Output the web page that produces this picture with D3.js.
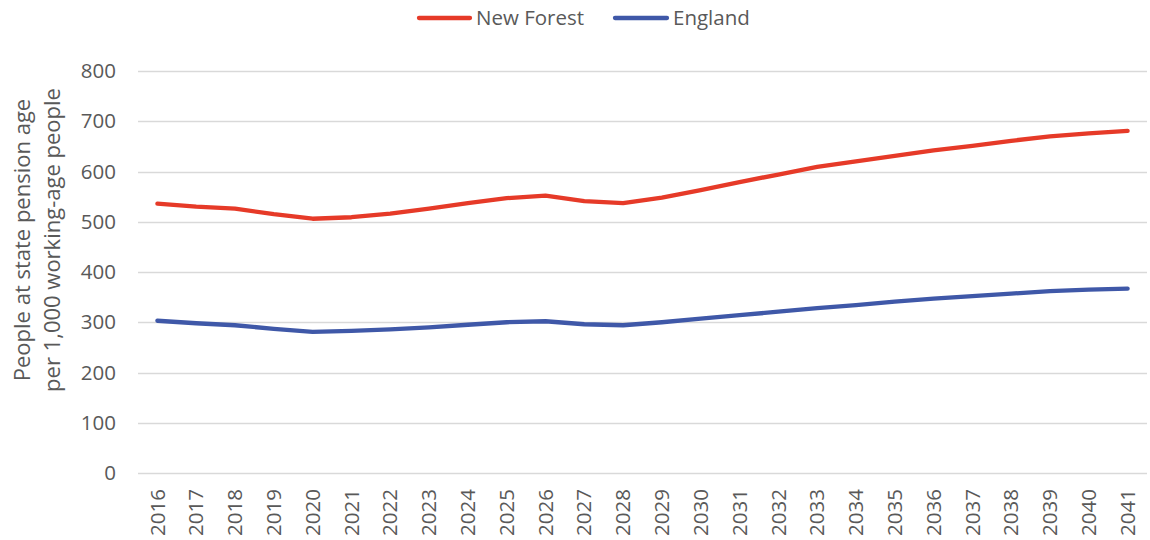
<!DOCTYPE html>
<html>
<head>
<meta charset="utf-8">
<script src="https://cdn.jsdelivr.net/npm/d3@7"></script>
<style>
  html, body { margin: 0; padding: 0; background: #fff; }
  svg { display: block; }
  text { font-family: "Open Sans", "Noto Sans", sans-serif; fill: #595959; }
</style>
</head>
<body>
<svg id="chart" width="1150" height="540"></svg>
<script>
const years = ["2016","2017","2018","2019","2020","2021","2022","2023","2024","2025","2026","2027","2028","2029","2030","2031","2032","2033","2034","2035","2036","2037","2038","2039","2040","2041"];
const newForest = [536,530,526,515,506,509,516,526,537,547,552,541,537,548,563,579,594,609,620,631,642,651,661,670,676,681];
const england = [303,298,294,287,281,283,286,290,295,300,302,296,294,300,307,314,321,328,334,341,347,352,357,362,365,367];
const yTicks = [0,100,200,300,400,500,600,700,800];
const seriesNames = ["New Forest","England"];
const seriesColors = ["#E63A28","#3F58A8"];

const svg = d3.select("#chart");
const margin = {left: 138, right: 3, top: 71, bottom: 67};
const W = 1150, H = 540;

const x = d3.scaleBand().domain(years).range([margin.left, W - margin.right]).paddingInner(0).paddingOuter(0);
const y = d3.scaleLinear().domain([0, 800]).range([H - margin.bottom, margin.top]);

// gridlines
svg.append("g")
  .selectAll("line").data(yTicks).join("line")
  .attr("x1", margin.left).attr("x2", W - margin.right)
  .attr("y1", d => Math.round(y(d)) + 0.5).attr("y2", d => Math.round(y(d)) + 0.5)
  .attr("stroke", "#d9d9d9").attr("stroke-width", 1.3);

// y axis
const yAxis = svg.append("g").attr("transform", `translate(${margin.left},0)`)
  .call(d3.axisLeft(y).tickValues(yTicks).tickSize(0).tickPadding(22));
yAxis.select(".domain").remove();
yAxis.selectAll("text").style("font-size", "20.5px").attr("fill", "#595959");

// x axis
const xAxis = svg.append("g").attr("transform", `translate(0,${H - margin.bottom})`)
  .call(d3.axisBottom(x).tickSize(0));
xAxis.select(".domain").remove();
xAxis.selectAll("text")
  .style("font-size", "20.5px").attr("fill", "#595959")
  .attr("transform", "rotate(-90)")
  .attr("text-anchor", "end")
  .attr("x", -16).attr("y", 0).attr("dy", "0.35em");

// lines
const line = d3.line().x((d, i) => x(years[i]) + x.bandwidth() / 2).y(d => y(d));
[newForest, england].forEach((s, k) => {
  svg.append("path").datum(s)
    .attr("d", line)
    .attr("fill", "none")
    .attr("stroke", seriesColors[k])
    .attr("stroke-width", 4.3)
    .attr("stroke-linecap", "round")
    .attr("stroke-linejoin", "round");
});

// legend
const legendItems = [{x1: 419, x2: 470, tx: 476}, {x1: 615, x2: 667, tx: 673}];
legendItems.forEach((p, k) => {
  svg.append("line").attr("x1", p.x1).attr("x2", p.x2).attr("y1", 18).attr("y2", 18)
    .attr("stroke", seriesColors[k]).attr("stroke-width", 4.3).attr("stroke-linecap", "round");
  svg.append("text").attr("x", p.tx).attr("y", 18).attr("dy", "0.35em")
    .style("font-size", "20.5px").text(seriesNames[k]);
});

// y title
const yt = svg.append("text")
  .attr("transform", "translate(22,240) rotate(-90)")
  .attr("text-anchor", "middle")
  .style("font-size", "22px");
yt.append("tspan").attr("x", 0).attr("dy", "0.35em").text("People at state pension age");
yt.append("tspan").attr("x", 0).attr("dy", "1.36em").text("per 1,000 working-age people");
</script>
</body>
</html>
